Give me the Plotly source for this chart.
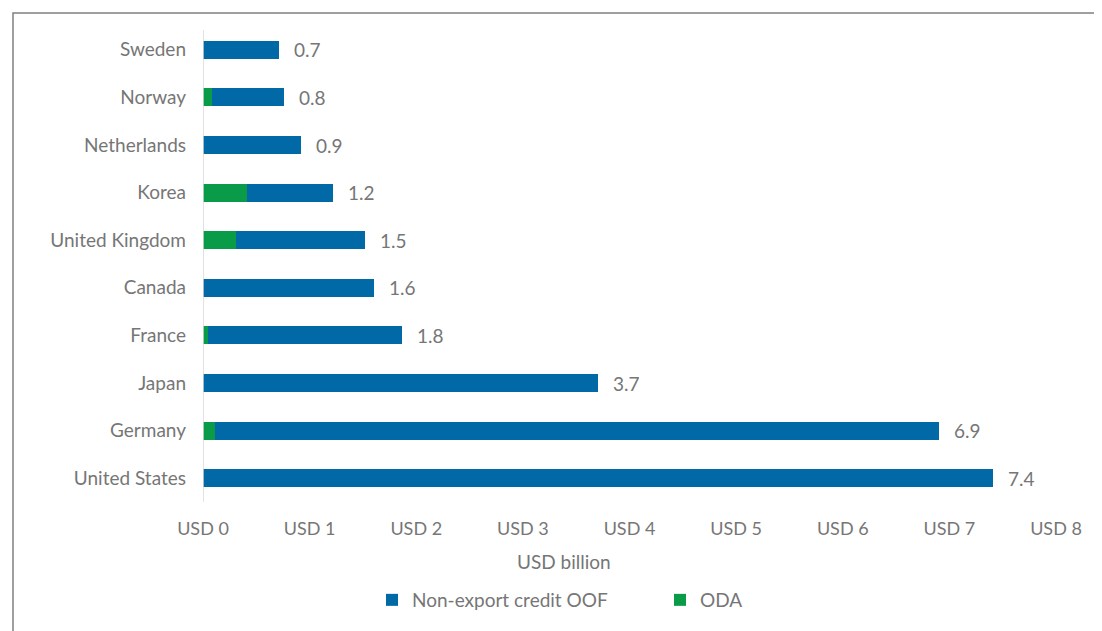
import plotly.graph_objects as go

countries = ["United States", "Germany", "Japan", "France", "Canada",
             "United Kingdom", "Korea", "Netherlands", "Norway", "Sweden"]
oda = [0.0, 0.11, 0.0, 0.05, 0.0, 0.31, 0.41, 0.0, 0.08, 0.0]
oof = [7.41, 6.79, 3.70, 1.82, 1.60, 1.21, 0.81, 0.92, 0.68, 0.71]
totals = [7.4, 6.9, 3.7, 1.8, 1.6, 1.5, 1.2, 0.9, 0.8, 0.7]
xticks = [0, 1, 2, 3, 4, 5, 6, 7, 8]
xticklabels = ["USD 0", "USD 1", "USD 2", "USD 3", "USD 4", "USD 5", "USD 6", "USD 7", "USD 8"]

BLUE = "#0069A6"
GREEN = "#0A9B48"
GRAY = "#767676"
FONT = "Lato"
FS = 19

# page body has an 8px margin; compensate so the picture lands in place
OFF = 8
W, H = 1102 - OFF, 631 - OFF
L, R, T, B = 203 - OFF, 46, 26 - OFF, 129
pw, ph = W - L - R, H - T - B

def px_x(px):
    return (px - OFF - L) / pw

def px_y(py):
    return (H - B - (py - OFF)) / ph

fig = go.Figure()
fig.add_trace(go.Bar(y=countries, x=oda, orientation="h", name="ODA",
                     marker=dict(color=GREEN, line=dict(width=0))))
fig.add_trace(go.Bar(y=countries, x=oof, orientation="h", name="Non-export credit OOF",
                     marker=dict(color=BLUE, line=dict(width=0))))

annotations = []
for c, a, b, t in zip(countries, oda, oof, totals):
    annotations.append(dict(x=a + b, y=c, xref="x", yref="y", text=f"{t:.1f}",
                            showarrow=False, xanchor="left", xshift=13,
                            font=dict(family=FONT, size=FS, color=GRAY)))
annotations.append(dict(x=px_x(564), y=px_y(561), xref="paper", yref="paper",
                        text="USD billion", showarrow=False,
                        xanchor="center", yanchor="middle",
                        font=dict(family=FONT, size=FS, color=GRAY)))

fig.update_layout(
    width=W, height=H,
    margin=dict(l=L, r=R, t=T, b=B, autoexpand=False),
    barmode="stack", bargap=0.62,
    plot_bgcolor="white", paper_bgcolor="white",
    font=dict(family=FONT, size=FS, color=GRAY),
    xaxis=dict(range=[0, 8], tickvals=xticks, ticktext=xticklabels,
               tickfont=dict(family=FONT, size=18, color=GRAY),
               showgrid=False, zeroline=False, showline=False, automargin=False,
               ticks="", ticklabelstandoff=14, fixedrange=True),
    yaxis=dict(showgrid=False, zeroline=False, showline=False, ticks="", automargin=False,
               tickfont=dict(family=FONT, size=FS, color=GRAY),
               ticklabelstandoff=16, range=[-0.5, 9.5]),
    legend=dict(orientation="h", x=px_x(660), xanchor="center",
                y=px_y(600), yanchor="middle", traceorder="reversed",
                font=dict(family=FONT, size=FS, color=GRAY),
                itemwidth=30, entrywidth=243),
    showlegend=True,
    annotations=annotations,
    shapes=[
        dict(type="line", xref="x", yref="paper", x0=0, x1=0, y0=px_y(502), y1=px_y(30),
             line=dict(color="#D9D9D9", width=1.5)),
        dict(type="rect", xref="paper", yref="paper", x0=px_x(13), x1=px_x(1200),
             y0=px_y(700), y1=px_y(13), line=dict(color="#808080", width=1.5),
             fillcolor="rgba(0,0,0,0)", layer="below"),
    ],
)

fig.write_html("out.html")
